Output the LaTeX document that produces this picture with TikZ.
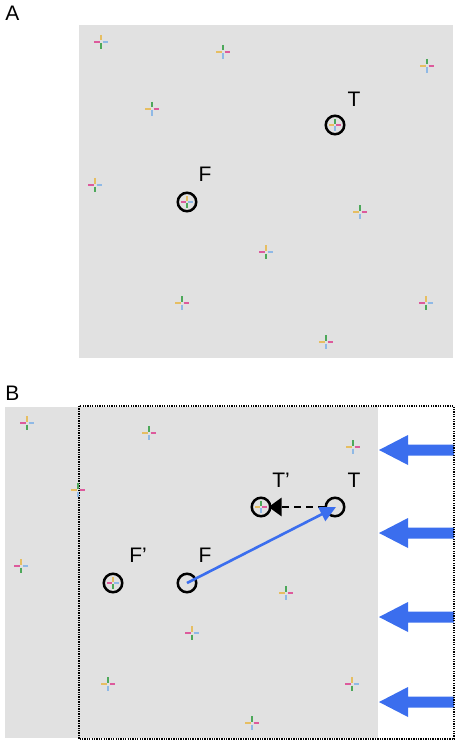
\documentclass[tikz,border=0pt]{standalone}
\usepackage{fontspec}
\setmainfont{Liberation Sans}
\usetikzlibrary{arrows.meta}
\definecolor{bg}{HTML}{E1E1E1}
\definecolor{cmag}{HTML}{DD5A9C}
\definecolor{cblu}{HTML}{8FB9E6}
\definecolor{cyel}{HTML}{E6BE62}
\definecolor{cgrn}{HTML}{4DA85A}
\definecolor{bigblue}{HTML}{3B6EEE}
\tikzset{
  arm/.style={line width=1.6pt},
  crossa/.pic={
    \draw[arm,cmag] (-7,0) -- (-1.5,0);
    \draw[arm,cblu] (1.5,0) -- (7,0);
    \draw[arm,cyel] (0,-7) -- (0,-1.5);
    \draw[arm,cgrn] (0,1.5) -- (0,7);
  },
  crossb/.pic={
    \draw[arm,cyel] (-7,0) -- (-1.5,0);
    \draw[arm,cmag] (1.5,0) -- (7,0);
    \draw[arm,cgrn] (0,-7) -- (0,-1.5);
    \draw[arm,cblu] (0,1.5) -- (0,7);
  },
  ring/.style={circle,draw=black,line width=2.5pt,minimum size=18.5pt,inner sep=0pt},
  lab/.style={inner sep=0pt,font=\fontsize{21}{24}\selectfont},
  bigarrow/.style={fill=bigblue},
  movearrow/.style={draw=bigblue,line width=2.6pt,-{Triangle[length=16pt,width=15pt]}},
  shiftarrow/.style={draw=black,line width=2.6pt,dash pattern=on 7pt off 5pt,-{Triangle[length=13pt,width=18pt]}}
}
\begin{document}
\begin{tikzpicture}[x=1pt,y=-1pt]
\useasboundingbox (0,0) rectangle (460,746);
% ---------------- Panel A ----------------
\node[lab] (labA) at (12.5,13.5) {A};
\fill[bg] (79,25) rectangle (453,358);
\pic at (101,42) {crossa};
\pic at (223,52) {crossb};
\pic at (427,66) {crossb};
\pic at (152,109) {crossb};
\pic at (95,185) {crossa};
\pic at (360,212) {crossb};
\pic at (266,252) {crossa};
\pic at (182,303) {crossb};
\pic at (426,303) {crossa};
\pic at (326,342) {crossb};
\pic[scale=0.8] at (335,125) {crossb};
\pic[scale=0.8] at (187,202) {crossa};
\node[ring] (TA) at (335,125) {};
\node[ring] (FA) at (187,202) {};
\node[lab] (TAl) at (354,99) {T};
\node[lab] (FAl) at (205,174.5) {F};
% ---------------- Panel B ----------------
\node[lab] (labB) at (12.5,393.5) {B};
\fill[bg] (5,407) rectangle (378,738);
\pic at (27,423) {crossa};
\pic at (149,433) {crossb};
\pic at (353,447) {crossb};
\pic at (21,566) {crossa};
\pic at (286,593) {crossb};
\pic at (192,633) {crossa};
\pic at (108,684) {crossb};
\pic at (352,684) {crossa};
\pic at (252,723) {crossb};
\pic[scale=0.8] at (261,507) {crossb};
\pic[scale=0.8] at (113,583) {crossa};
\node[ring] (TpB) at (261,507) {};
\node[ring] (FpB) at (113,583) {};
\node[ring] (TB) at (335,507) {};
\node[ring] (FB) at (187,583) {};
\node[lab] (TpBl) at (281,480.5) {T’};
\node[lab] (TBl) at (354,480.5) {T};
\node[lab] (FpBl) at (138,555.5) {F’};
\node[lab] (FBl) at (205,555.5) {F};
\draw[shiftarrow] (TB.west) -- ([xshift=-3pt]TpB.east);
\draw[movearrow] (FB.center) -- ([xshift=1pt]TB.center);
\foreach \yy in {450,533,617,702}{
  \fill[bigarrow] (454,\yy-5.5) -- (408,\yy-5.5) -- (408,\yy-15) -- (379,\yy)
    -- (408,\yy+15) -- (408,\yy+5.5) -- (454,\yy+5.5) -- cycle;
}
\draw[line width=1.3pt,dash pattern=on 1.3pt off 1.1pt] (79,406) rectangle (454,739);
\pic at (78,490) {crossb};
\end{tikzpicture}
\end{document}
